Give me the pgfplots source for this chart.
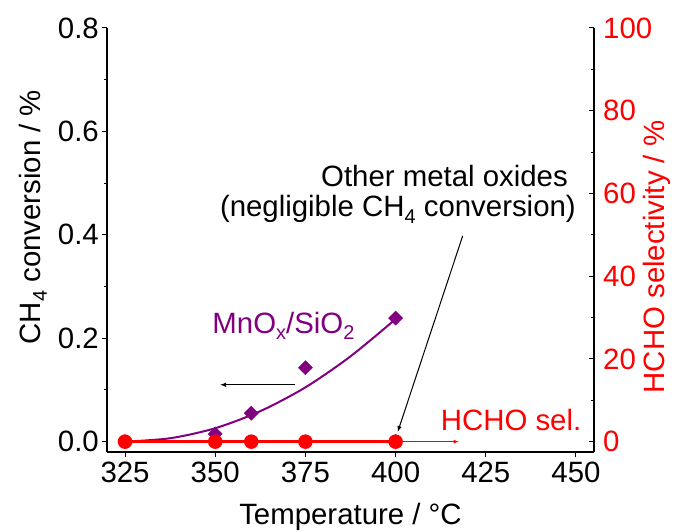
\documentclass[border=0pt]{standalone}
\usepackage{fontspec}
\setmainfont{Liberation Sans}
\usepackage{pgfplots}
\pgfplotsset{compat=1.18}
\definecolor{mnpurple}{RGB}{128,0,128}
\newcommand{\bigf}{\fontsize{29.5}{35}\selectfont}
\newcommand{\sub}[1]{\raisebox{-0.22em}{\fontsize{20}{20}\selectfont #1}}
\begin{document}
\begin{tikzpicture}[font=\bigf]
\pgfplotsset{
  common/.style={
    scale only axis, width=487bp, height=424bp,
    xmin=320, xmax=455,
    clip=false,
    axis line style={line width=1.2bp},
    major tick length=5bp, minor tick length=3bp,
    every tick/.style={line width=1bp, black},
    /pgf/number format/assume math mode=true,
    tick label style={font=\bigf},
    label style={font=\bigf},
  },
  dia/.style={only marks, mark=square*, mark size=5bp, mark options={rotate=45}},
}
\begin{axis}[common, name=ax,
  axis x line*=bottom, axis y line*=left,
  ymin=-0.02, ymax=0.8,
  xtick={325,350,...,450},
  ytick={0,0.2,0.4,0.6,0.8},
  minor ytick={0.1,0.3,0.5,0.7},
  tick align=outside,
  yticklabel style={/pgf/number format/fixed, /pgf/number format/fixed zerofill, /pgf/number format/precision=1},
  yticklabel style={inner sep=1bp, xshift=-2bp},
  xticklabel style={inner sep=1bp, yshift=-4bp},
  xlabel={Temperature / °C},
  ylabel={CH\sub{4} conversion / \%},
  xlabel style={at={(axis description cs:0.5,-0.153)}, anchor=center},
  ylabel style={at={(axis description cs:-0.152,0.554)}, anchor=center},
]
% fitted curve for MnOx/SiO2
\addplot[mnpurple, line width=2bp, smooth, no marks] coordinates {
 (325,0.0) (337.5,0.0066) (350,0.026) (362.5,0.059) (375,0.105) (387.5,0.165) (400,0.237)};
% other metal oxides at 400
\addplot[dia, green!60!black] coordinates {(400,0)};
\addplot[dia, mnpurple] coordinates {(400,0)};
% MnOx/SiO2 data
\addplot[dia, mnpurple] coordinates {
 (325,0.0) (350,0.015) (360,0.055) (375,0.143) (400,0.239)};
% annotations
\draw[-latex, line width=1bp] (axis cs:372.2,0.11) -- (axis cs:351.4,0.11);
\draw[-latex, line width=1bp] (axis cs:418.6,0.398) -- (axis cs:400.6,0.019);
\node[mnpurple, anchor=base, inner sep=0] at (axis cs:368.9,0.21) {MnO\sub{x}/SiO\sub{2}};
\node[anchor=base east, inner sep=0] at (axis cs:447.8,0.493) {Other metal oxides};
\node[anchor=base east, inner sep=0] at (axis cs:450,0.435) {(negligible CH\sub{4} conversion)};
\end{axis}
\begin{axis}[common,
  axis x line=none, axis y line*=right,
  ymin=-2.5, ymax=100,
  ytick={0,20,...,100},
  minor ytick={10,30,50,70,90},
  tick align=inside,
  y axis line style={black},
  yticklabel style={red, inner sep=1bp, xshift=8bp},
  ylabel={HCHO selectivity / \%},
  ylabel style={red, at={(axis description cs:1.129,0.46)}, anchor=center},
]
\addplot[red, line width=2.5bp, mark=*, mark size=6bp] coordinates {
 (325,0) (350,0) (360,0) (375,0) (400,0)};
\draw[-latex, red, line width=0.8bp] (axis cs:400,0) -- (axis cs:417.5,0);
\node[red, anchor=base west, inner sep=0] at (axis cs:412.5,2.6) {HCHO sel.};
\end{axis}
\pgfresetboundingbox
\path[use as bounding box] ([shift={(-107bp,-80bp)}]ax.south west) rectangle ([shift={(81bp,28bp)}]ax.north east);
\end{tikzpicture}
\end{document}
